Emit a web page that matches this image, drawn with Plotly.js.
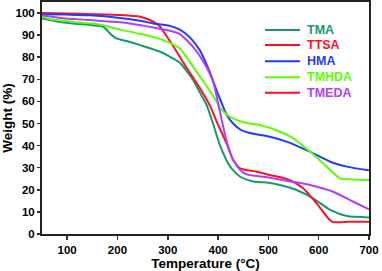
<!DOCTYPE html>
<html>
<head>
<meta charset="utf-8">
<script src="https://cdn.plot.ly/plotly-3.0.1.min.js"></script>
<style>html,body{margin:0;padding:0;background:#fff}#chart{width:382px;height:271px}</style>
</head>
<body>
<div id="chart"></div>
<script>
// Series data (Temperature °C, Weight %)
const tmaT   = [50, 80, 112, 150, 172, 185, 198, 220, 245, 285, 310, 324, 340, 351, 364, 377, 390, 404, 424, 444, 470, 500, 523, 556, 589, 623, 656, 700];
const tmaW   = [97.5, 96.2, 95.3, 94.5, 93.8, 90.8, 88.5, 87.2, 85.5, 82.5, 79.5, 77.5, 73, 69.5, 64, 58.5, 50, 40, 30.5, 25.9, 23.8, 23.2, 22.2, 19.9, 16.1, 10.9, 8.1, 7.5];

const ttsaT  = [50, 100, 150, 205, 245, 271, 285, 291, 311, 338, 364, 384, 397, 417, 430, 444, 477, 503, 543, 569, 596, 626, 660, 700];
const ttsaW  = [100, 99.8, 99.5, 99.1, 98.3, 96.1, 93.8, 91.8, 85, 75, 66, 58, 51, 41, 33.5, 29.7, 28.2, 26.7, 24.4, 20.7, 13.9, 5.6, 5.6, 5.6];

const hmaT   = [50, 100, 145, 205, 245, 271, 304, 324, 344, 364, 384, 397, 404, 417, 430, 444, 463, 503, 536, 583, 623, 656, 700];
const hmaW   = [99.5, 99.3, 99.0, 97.8, 96.5, 95.3, 94.2, 92.5, 89, 83, 73, 65, 61, 54, 50, 47.3, 45.7, 44, 41.8, 37.2, 32.7, 30.5, 28.8];

const tmhdaT = [50, 66, 112, 165, 205, 245, 285, 324, 344, 371, 397, 404, 424, 444, 463, 483, 523, 550, 583, 623, 642, 669, 700];
const tmhdaW = [98.3, 97.3, 96, 94.8, 92.5, 90.6, 88.2, 84, 77.8, 69, 60, 57, 53, 51, 50, 49.3, 46.3, 43.3, 37.2, 29, 25.2, 24.7, 24.4];

const tmedaT = [50, 86, 145, 205, 225, 271, 304, 324, 351, 371, 390, 404, 417, 430, 444, 457, 503, 536, 583, 629, 669, 700];
const tmedaW = [99, 97.8, 96.8, 95.8, 95.3, 93.5, 92, 90.5, 84.5, 78, 69, 55, 42, 33.5, 29, 27, 25.5, 24.1, 22.2, 19.1, 14.6, 11.2];

const names = ["TMA", "TTSA", "HMA", "TMHDA", "TMEDA"];
const colors = ["#17996b", "#ff1020", "#1f3cff", "#5cff00", "#b33cff"];
const legendLineColors = ["#17996b", "#ff1020", "#1f3cff", "#5cff00", "#ff1020"];
const xs = [tmaT, ttsaT, hmaT, tmhdaT, tmedaT];
const ys = [tmaW, ttsaW, hmaW, tmhdaW, tmedaW];

const traces = names.map((n, i) => ({
  x: xs[i], y: ys[i], type: "scatter", mode: "lines", name: n,
  line: {color: colors[i], width: 2, shape: "spline", smoothing: 0.6}, showlegend: false, hoverinfo: "skip"
}));

// legend drawn as shapes + annotations
const legY = [0.879, 0.815, 0.745, 0.676, 0.609];
const shapes = names.map((n, i) => ({
  type: "line", xref: "paper", yref: "paper",
  x0: 0.682, x1: 0.789, y0: legY[i], y1: legY[i],
  line: {color: legendLineColors[i], width: 2}
}));
const annotations = names.map((n, i) => ({
  xref: "paper", yref: "paper", x: 0.805, y: legY[i],
  xanchor: "left", yanchor: "middle", text: n, showarrow: false,
  font: {family: "Liberation Sans, Arial, sans-serif", size: 12.5, color: colors[i], weight: "bold"}
}));

const font = {family: "Liberation Sans, Arial, sans-serif", size: 12, color: "#000", weight: "bold"};
const layout = {
  width: 382, height: 271,
  margin: {l: 42, r: 13, t: 2, b: 37},
  paper_bgcolor: "#fff", plot_bgcolor: "#fff",
  font: font,
  showlegend: false,
  xaxis: {
    range: [50, 700], tickvals: [100, 200, 300, 400, 500, 600, 700],
    ticks: "outside", ticklen: 4, tickwidth: 1.5, tickcolor: "#333",
    showline: true, linecolor: "#222", linewidth: 2, mirror: true,
    showgrid: false, zeroline: false,
    tickfont: {family: font.family, size: 11.5, color: "#000", weight: "bold"},
    title: {text: "Temperature (°C)", font: {family: font.family, size: 13.5, color: "#000", weight: "bold"}, standoff: 4}
  },
  yaxis: {
    range: [0, 105], tickvals: [0, 10, 20, 30, 40, 50, 60, 70, 80, 90, 100],
    ticks: "outside", ticklen: 3, tickwidth: 1.5, tickcolor: "#333",
    showline: true, linecolor: "#222", linewidth: 2, mirror: true,
    showgrid: false, zeroline: false,
    tickfont: {family: font.family, size: 11.5, color: "#000", weight: "bold"},
    title: {text: "Weight (%)", font: {family: font.family, size: 13.5, color: "#000", weight: "bold"}, standoff: 4}
  },
  shapes: shapes,
  annotations: annotations
};
Plotly.newPlot("chart", traces, layout, {staticPlot: true, displayModeBar: false});
</script>
</body>
</html>
